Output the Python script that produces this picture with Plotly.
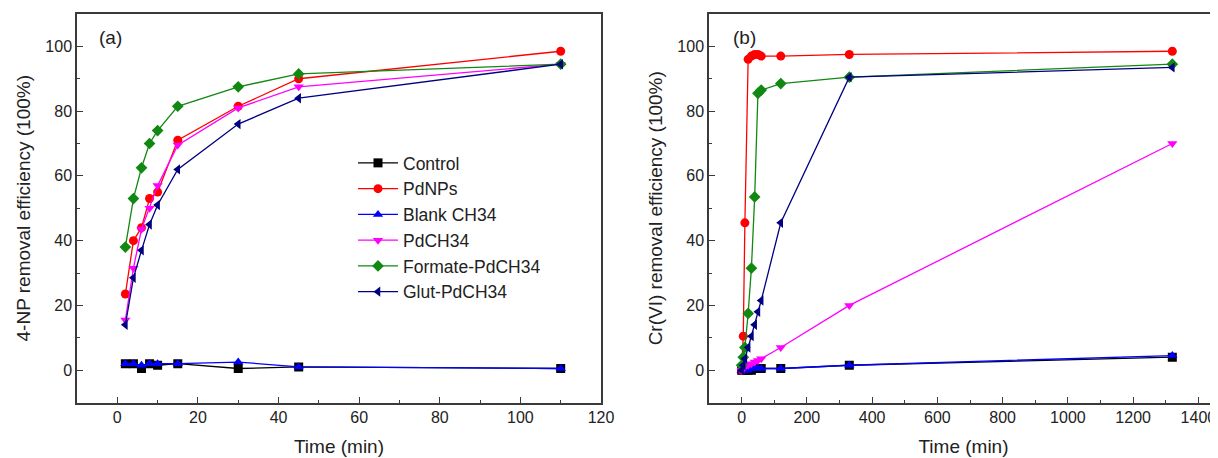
import plotly.graph_objects as go

# ---------------- data ----------------
series_names = ["Control", "PdNPs", "Blank CH34", "PdCH34", "Formate-PdCH34", "Glut-PdCH34"]
series_colors = ["#000000", "#ff0000", "#0000ff", "#ff00ff", "#118811", "#000080"]
series_symbols = ["square", "circle", "triangle-up", "triangle-down", "diamond", "triangle-left"]

# panel (a): 4-NP removal
time_a = [2, 4, 6, 8, 10, 15, 30, 45, 110]
a_control = [2.0, 2.0, 0.5, 2.0, 1.5, 2.0, 0.5, 1.0, 0.5]
a_pdnps = [23.5, 40.0, 44.0, 53.0, 55.0, 71.0, 81.5, 90.0, 98.5]
a_blank = [2.0, 2.0, 1.5, 2.0, 2.0, 2.0, 2.5, 1.0, 0.5]
a_pdch34 = [15.5, 31.5, 43.5, 50.0, 57.0, 69.5, 81.0, 87.5, 94.5]
a_formate = [38.0, 53.0, 62.5, 70.0, 74.0, 81.5, 87.5, 91.5, 94.5]
a_glut = [14.0, 28.5, 37.0, 45.0, 51.0, 62.0, 76.0, 84.0, 94.5]

# panel (b): Cr(VI) removal
time_b = [0, 5, 10, 20, 30, 40, 50, 60, 120, 330, 1320]
b_control = [0.0, 0.0, 0.0, 0.0, 0.0, 0.5, 0.5, 0.5, 0.5, 1.5, 4.0]
b_pdnps = [0.0, 10.5, 45.5, 96.0, 97.0, 97.5, 97.5, 97.0, 97.0, 97.5, 98.5]
b_blank = [0.0, 0.0, 0.0, 0.0, 0.5, 0.5, 0.5, 0.5, 0.5, 1.5, 4.5]
b_pdch34 = [0.0, 0.5, 1.0, 1.5, 2.0, 2.5, 3.0, 3.5, 7.0, 20.0, 70.0]
b_formate = [1.5, 4.0, 7.0, 17.5, 31.5, 53.5, 85.5, 86.5, 88.5, 90.5, 94.5]
b_glut = [0.0, 1.5, 3.5, 7.0, 10.5, 14.0, 18.0, 21.5, 45.5, 90.5, 93.5]

x_ticks_a = [0, 20, 40, 60, 80, 100, 120]
x_ticks_b = [0, 200, 400, 600, 800, 1000, 1200, 1400]
y_ticks = [0, 20, 40, 60, 80, 100]

a_values = [a_control, a_pdnps, a_blank, a_pdch34, a_formate, a_glut]
b_values = [b_control, b_pdnps, b_blank, b_pdch34, b_formate, b_glut]

# ---------------- figure ----------------
# the page body has an 8px margin, so the figure is drawn 8px in from the window corner
OFF = 8
W, H = 1218 - OFF, 458 - OFF
FONT = "Liberation Sans, Arial, sans-serif"

fig = go.Figure()
for name, col, sym, ya, yb in zip(series_names, series_colors, series_symbols, a_values, b_values):
    fig.add_trace(go.Scatter(
        x=time_a, y=ya, name=name, mode="lines+markers",
        line=dict(color=col, width=1.3),
        marker=dict(symbol=sym, color=col, size=9),
        xaxis="x", yaxis="y", legendgroup=name, showlegend=True))
    fig.add_trace(go.Scatter(
        x=time_b, y=yb, name=name, mode="lines+markers",
        line=dict(color=col, width=1.3),
        marker=dict(symbol=sym, color=col, size=9),
        xaxis="x2", yaxis="y2", legendgroup=name, showlegend=False))

def px_x(p):
    return (p - OFF) / W

def px_y(p):
    return 1 - (p - OFF) / H

axis_common = dict(
    showline=True, linecolor="#3a3a3a", linewidth=1.5,
    ticks="inside", ticklen=6, tickwidth=1.3, tickcolor="#3a3a3a",
    showgrid=False, zeroline=False,
    tickfont=dict(family=FONT, size=16, color="#222222"),
    automargin=False,
)
minor_y = dict(ticks="inside", ticklen=3, tickcolor="#3a3a3a", dtick=10, showgrid=False)

fig.update_layout(
    width=W, height=H,
    margin=dict(l=0, r=0, t=0, b=0),
    paper_bgcolor="white", plot_bgcolor="white",
    font=dict(family=FONT, color="#222222"),
    xaxis=dict(
        **axis_common, domain=[px_x(77), px_x(601)], range=[-10, 120],
        tickvals=x_ticks_a, mirror=True, anchor="y",
        minor=dict(ticks="inside", ticklen=3, tickcolor="#3a3a3a", dtick=10, showgrid=False),
        title=dict(text="Time (min)", font=dict(family=FONT, size=19), standoff=14),
    ),
    yaxis=dict(
        **axis_common, domain=[px_y(402.5), px_y(14)], range=[-10, 110],
        tickvals=y_ticks, mirror=True, anchor="x", minor=minor_y,
        title=dict(text="4-NP removal efficiency (100%)", font=dict(family=FONT, size=19), standoff=10),
    ),
    xaxis2=dict(
        **axis_common, domain=[px_x(709), 1.0], range=[-100, 1460],
        tickvals=x_ticks_b, mirror=True, anchor="y2",
        minor=dict(ticks="inside", ticklen=3, tickcolor="#3a3a3a", dtick=100, showgrid=False),
        title=dict(text="Time (min)", font=dict(family=FONT, size=19), standoff=14),
    ),
    yaxis2=dict(
        **axis_common, domain=[px_y(402.5), px_y(14)], range=[-10, 110],
        tickvals=y_ticks, mirror=False, anchor="x2", minor=minor_y,
        title=dict(text="Cr(VI) removal efficiency (100%)", font=dict(family=FONT, size=19), standoff=10),
    ),
    legend=dict(
        x=px_x(353), y=px_y(145), xanchor="left", yanchor="top",
        bgcolor="rgba(0,0,0,0)", borderwidth=0,
        font=dict(family=FONT, size=17.5, color="#222222"),
        tracegroupgap=0, itemwidth=40,
    ),
    showlegend=True,
    annotations=[
        dict(text="(a)", x=px_x(97), y=px_y(38), xref="paper", yref="paper",
             xanchor="left", yanchor="middle", showarrow=False,
             font=dict(family=FONT, size=19, color="#222222")),
        dict(text="(b)", x=px_x(731), y=px_y(38), xref="paper", yref="paper",
             xanchor="left", yanchor="middle", showarrow=False,
             font=dict(family=FONT, size=19, color="#222222")),
    ],
)

fig.write_html("out.html")
